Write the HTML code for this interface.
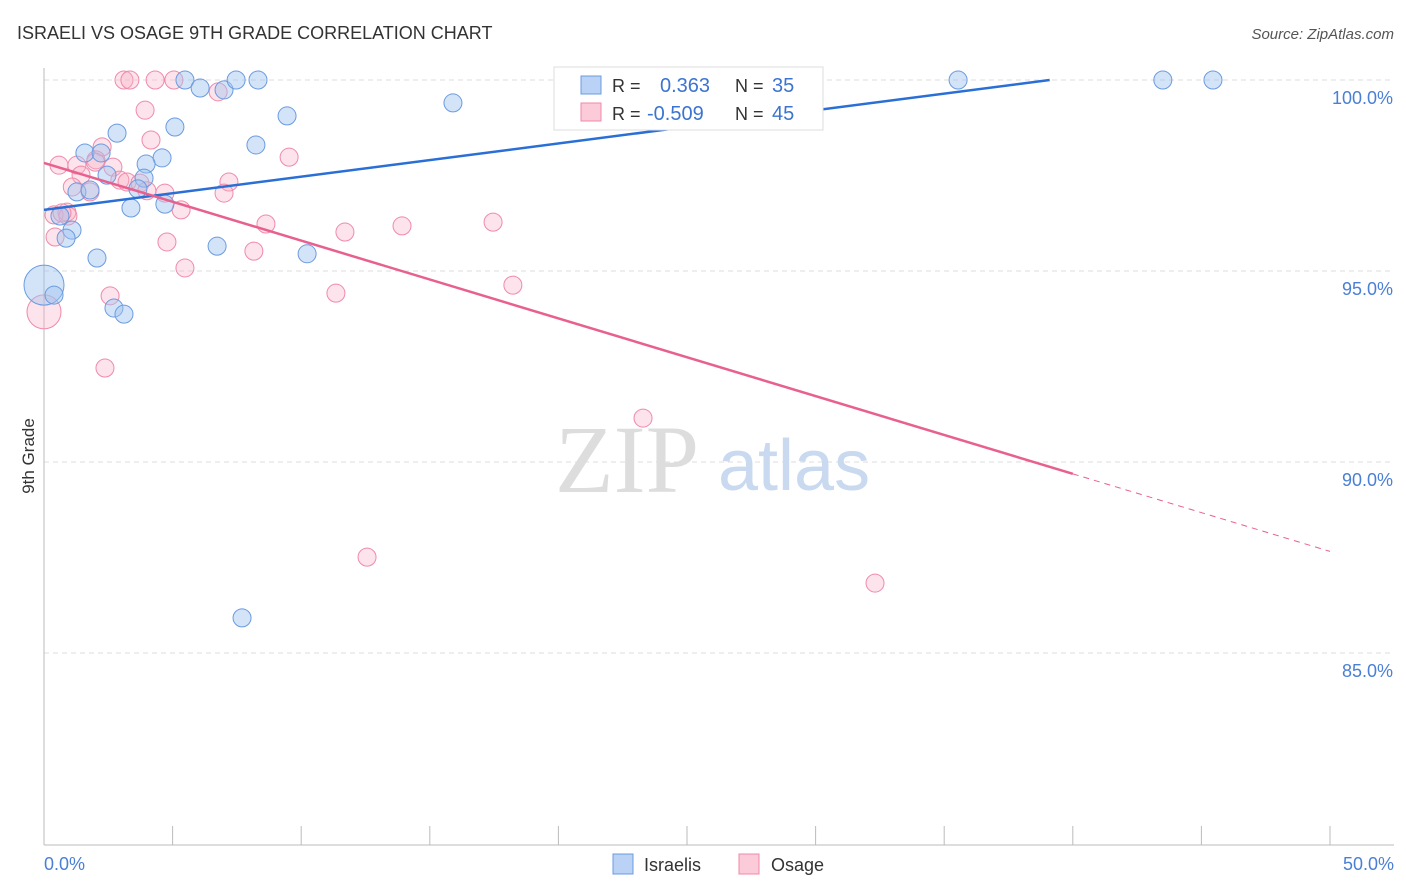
<!DOCTYPE html>
<html><head><meta charset="utf-8"><style>
body{margin:0;background:#fff;font-family:"Liberation Sans",sans-serif;}
svg{display:block}
</style></head><body>
<svg id="chart" width="1406" height="892">
<text x="17" y="39" font-size="18" fill="#333">ISRAELI VS OSAGE 9TH GRADE CORRELATION CHART</text>
<text x="1394" y="39" font-size="15" fill="#555" font-style="italic" text-anchor="end">Source: ZipAtlas.com</text>
<g id="grid"></g>
<text x="555" y="492" font-size="96" fill="#ddd" font-family="Liberation Serif,serif">ZIP</text>
<text x="718" y="490" font-size="72" fill="#c9d9ef">atlas</text>
<g id="pts"></g>
<g id="trend"></g>
<text transform="translate(34,456) rotate(-90)" font-size="17" fill="#333" text-anchor="middle">9th Grade</text>
<text x="44" y="870" font-size="18" fill="#4a7fd6">0.0%</text>
<text x="1394" y="870" font-size="18" fill="#4a7fd6" text-anchor="end">50.0%</text>
<g>
<rect x="554" y="67" width="269" height="63" fill="#fff" stroke="#ddd"/>
<rect x="581" y="76" width="20" height="18" fill="#b9d2f5" stroke="#6a9be0"/>
<rect x="581" y="103" width="20" height="18" fill="#fbcbd9" stroke="#f08aaa"/>
<text x="612" y="92" font-size="18" fill="#333">R = </text><text x="660" y="92" font-size="20" fill="#3b74d1">0.363</text>
<text x="735" y="92" font-size="18" fill="#333">N = </text><text x="772" y="92" font-size="20" fill="#3b74d1">35</text>
<text x="612" y="120" font-size="18" fill="#333">R = </text><text x="647" y="120" font-size="20" fill="#3b74d1">-0.509</text>
<text x="735" y="120" font-size="18" fill="#333">N = </text><text x="772" y="120" font-size="20" fill="#3b74d1">45</text>
</g>
<g>
<rect x="613" y="854" width="20" height="20" fill="#b9d2f5" stroke="#6a9be0"/>
<text x="644" y="871" font-size="18" fill="#333">Israelis</text>
<rect x="739" y="854" width="20" height="20" fill="#fbcbd9" stroke="#f08aaa"/>
<text x="771" y="871" font-size="18" fill="#333">Osage</text>
</g>
</svg>
<script>
const yTicks=[100,95,90,85];
const yTickLabels=["100.0%","95.0%","90.0%","85.0%"];
const xTicks=[0,5,10,15,20,25,30,35,40,45,50];
const israeliX=[5.48,6.07,7.0,7.47,8.32,15.9,35.54,43.5,45.45,9.45,5.09,2.84,8.24,1.59,2.22,4.59,3.97,3.89,2.45,3.65,1.28,1.79,3.38,4.7,0.62,1.09,0.86,6.73,10.23,2.06,0,0.39,2.72,3.11,7.7];
const israeliY=[100,99.79,99.74,100,100,99.4,100,100,100,99.06,98.77,98.61,98.3,98.09,98.09,97.96,97.8,97.43,97.51,97.15,97.07,97.12,96.65,96.75,96.44,96.07,95.86,95.65,95.45,95.34,94.63,94.37,94.03,93.87,85.92];
const israeliR=[9,9,9,9,9,9,9,9,9,9,9,9,9,9,9,9,9,9,9,9,9,9,9,9,9,9,9,9,9,9,20,9,9,9,9];
const osageX=[3.11,3.34,4.32,5.05,6.77,3.93,4.16,2.26,0.58,1.28,2.02,2.68,2.95,3.23,1.44,1.79,4.7,7.19,7.0,5.33,0.89,0.39,0.93,0.43,4.78,8.63,11.7,13.92,17.46,8.16,5.48,2.57,11.35,18.23,0,2.37,23.29,12.56,32.31,9.53,3.73,0.7,2.0,4.0,1.1];
const osageY=[100,100,100,100,99.69,99.21,98.43,98.25,97.77,97.77,97.91,97.72,97.38,97.33,97.51,97.07,97.04,97.33,97.04,96.6,96.54,96.47,96.44,95.89,95.76,96.23,96.02,96.18,96.28,95.52,95.08,94.35,94.42,94.63,93.93,92.46,91.15,87.51,86.83,97.98,97.3,96.52,97.85,97.1,97.2];
const osageR=[9,9,9,9,9,9,9,9,9,9,9,9,9,9,9,9,9,9,9,9,9,9,9,9,9,9,9,9,9,9,9,9,9,9,17,9,9,9,9,9,9,9,9,9,9];
const israeliTrend=[[0,96.6],[39.1,100]];
const osageTrendSolid=[[0,97.83],[40,89.69]];
const osageTrendDash=[[40,89.69],[50,87.66]];
const NS="http://www.w3.org/2000/svg";
const xs=v=>44+v*25.72, ys=v=>80+(100-v)*38.2;
function mk(t,a,p){const e=document.createElementNS(NS,t);for(const k in a)e.setAttribute(k,a[k]);p.appendChild(e);return e;}
const grid=document.getElementById('grid');
yTicks.forEach((t,i)=>{
 const l=mk('line',{x1:44,x2:1394,y1:ys(t),y2:ys(t),stroke:'#ddd','stroke-dasharray':'5,4'},grid);
 
 
 const tx=mk('text',{x:1393,y:ys(t)+24,'font-size':18,fill:'#4a7fd6','text-anchor':'end'},grid);
 tx.textContent=yTickLabels[i];
 
 
});
const ax=mk('line',{x1:44,x2:44,y1:68,y2:845,stroke:'#bbb'},grid);


const bx=mk('line',{x1:44,x2:1394,y1:845,y2:845,stroke:'#bbb'},grid);


xTicks.forEach(t=>{
 const l=mk('line',{x1:xs(t),x2:xs(t),y1:826,y2:845,stroke:'#bbb'},grid);
 
 
});
const pts=document.getElementById('pts');
osageX.forEach((x,i)=>{
 const c=mk('circle',{cx:xs(x),cy:ys(osageY[i]),r:osageR[i],fill:'rgba(248,175,198,0.35)',stroke:'#f08aaa','stroke-width':1},pts);
 
 
});
israeliX.forEach((x,i)=>{
 const c=mk('circle',{cx:xs(x),cy:ys(israeliY[i]),r:israeliR[i],fill:'rgba(160,195,240,0.45)',stroke:'#6a9be0','stroke-width':1},pts);
 
 
});
const tr=document.getElementById('trend');
let a=mk('line',{x1:xs(israeliTrend[0][0]),y1:ys(israeliTrend[0][1]),x2:xs(israeliTrend[1][0]),y2:ys(israeliTrend[1][1]),stroke:'#2a6fd6','stroke-width':2.5},tr);


a=mk('line',{x1:xs(osageTrendSolid[0][0]),y1:ys(osageTrendSolid[0][1]),x2:xs(osageTrendSolid[1][0]),y2:ys(osageTrendSolid[1][1]),stroke:'#e8608e','stroke-width':2.5},tr);


a=mk('line',{x1:xs(osageTrendDash[0][0]),y1:ys(osageTrendDash[0][1]),x2:xs(osageTrendDash[1][0]),y2:ys(osageTrendDash[1][1]),stroke:'#e8608e','stroke-width':1,'stroke-dasharray':'6,5'},tr);


</script>
</body></html>
